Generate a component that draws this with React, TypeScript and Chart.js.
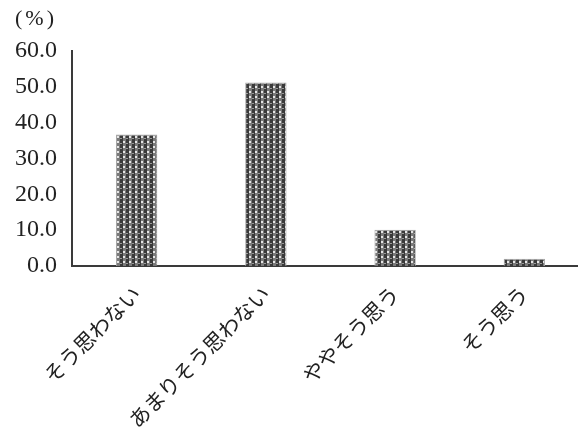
import { useEffect, useRef } from "react";
import { Chart, registerables } from "chart.js";

Chart.register(...registerables);

// Survey answer categories and their shares (%)
const categories = ["そう思わない", "あまりそう思わない", "ややそう思う", "そう思う"];
const percentages = [36.7, 51.2, 10.1, 2.0];
const yTickValues = [0, 10, 20, 30, 40, 50, 60];
const unitLabel = "(%)";

const SERIF = "'Liberation Serif', 'Times New Roman', serif";
const JP = "'Noto Sans CJK JP', sans-serif";

// Dark hatch tile with small light dots, used as the bar fill
function makeDotPattern(ctx: CanvasRenderingContext2D): CanvasPattern | string {
  const tile = document.createElement("canvas");
  tile.width = 6;
  tile.height = 5;
  const t = tile.getContext("2d");
  if (!t) return "#555";
  t.fillStyle = "#3a3a3a";
  t.fillRect(0, 0, 6, 5);
  t.fillStyle = "#7a7a7a";
  t.fillRect(3, 0, 3, 5);
  t.fillStyle = "#e6e6e6";
  t.fillRect(3, 1, 2, 2);
  t.fillStyle = "#9a9a9a";
  t.fillRect(0, 3, 2, 1);
  return ctx.createPattern(tile, "repeat") || "#555";
}

const unitLabelPlugin = {
  id: "unitLabel",
  afterDraw(chart: any) {
    const { ctx } = chart;
    const yScale = chart.scales.y;
    ctx.save();
    ctx.font = `22px ${SERIF}`;
    (ctx as any).letterSpacing = "3px";
    ctx.fillStyle = "#222";
    ctx.textAlign = "center";
    ctx.textBaseline = "middle";
    ctx.fillText(unitLabel, yScale.right - 36, yScale.top - 32);
    ctx.restore();
  },
};

export default function App() {
  const canvasRef = useRef<HTMLCanvasElement | null>(null);

  useEffect(() => {
    const canvas = canvasRef.current;
    if (!canvas) return;
    const ctx = canvas.getContext("2d");
    if (!ctx) return;
    const fill = makeDotPattern(ctx);

    const chart = new Chart(canvas, {
      type: "bar",
      data: {
        labels: categories,
        datasets: [
          {
            data: percentages,
            backgroundColor: fill as any,
            borderColor: "#a8a8a8",
            borderWidth: 1,
            categoryPercentage: 1,
            barPercentage: 0.32,
          },
        ],
      },
      plugins: [unitLabelPlugin],
      options: {
        animation: false,
        responsive: false,
        devicePixelRatio: 1,
        layout: { padding: { top: 51, left: 0, right: 0, bottom: 0 } },
        plugins: {
          legend: { display: false },
          tooltip: { enabled: false },
        },
        scales: {
          x: {
            grid: { display: false, drawTicks: false },
            border: { color: "#3a3a3a", width: 2 },
            ticks: {
              autoSkip: false,
              maxRotation: 45,
              minRotation: 45,
              padding: 15,
              color: "#222",
              font: { family: JP, size: 21 },
            },
            afterFit(scale: any) {
              scale.height = 175;
            },
          },
          y: {
            min: 0,
            max: 60,
            afterBuildTicks(scale: any) {
              scale.ticks = yTickValues.map((v) => ({ value: v }));
            },
            grid: { display: false, drawTicks: false },
            border: { color: "#3a3a3a", width: 2 },
            ticks: {
              padding: 15,
              color: "#222",
              font: { family: SERIF, size: 24 },
              callback: (v: any) => Number(v).toFixed(1),
            },
            afterFit(scale: any) {
              scale.width = 72;
            },
          },
        },
      },
    });

    return () => chart.destroy();
  }, []);

  return (
    <div
      style={{
        position: "fixed",
        left: 0,
        top: 0,
        width: 578,
        height: 441,
        overflow: "hidden",
        background: "#fff",
      }}
    >
      <canvas ref={canvasRef} width={589} height={441} style={{ display: "block" }} />
    </div>
  );
}
